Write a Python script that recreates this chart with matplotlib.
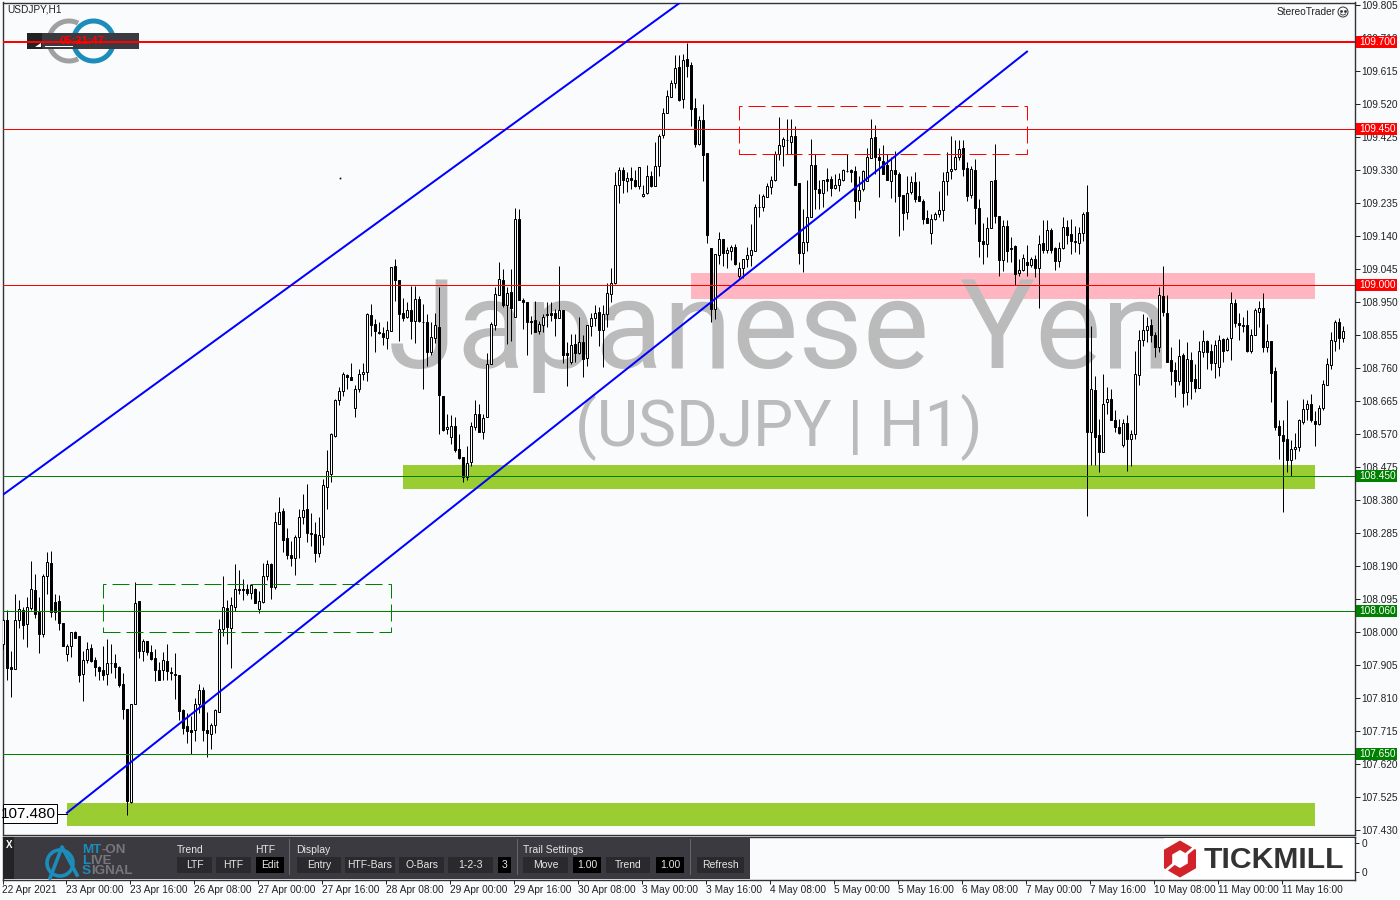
import numpy as np
import matplotlib
matplotlib.use("Agg")
import matplotlib.pyplot as plt
from matplotlib.patches import Rectangle, Circle, RegularPolygon, Polygon

plt.rcParams['font.family'] = ['Liberation Sans', 'DejaVu Sans']

# USDJPY H1 candles
opens = [
    107.967,108.036,107.899,107.895,108.036,108.065,108.024,108.070,108.122,108.058,
    107.995,108.163,108.200,108.087,108.091,108.026,107.938,107.959,108.000,107.988,
    107.880,107.921,107.955,107.921,107.901,107.890,107.880,107.912,107.912,107.901,
    107.851,107.779,107.510,107.794,108.089,107.945,107.976,107.943,107.926,107.892,
    107.890,107.916,107.886,107.880,107.877,107.775,107.729,107.717,107.717,107.794,
    107.834,107.717,107.707,107.734,107.770,108.010,108.070,108.013,108.074,108.125,
    108.125,108.125,108.112,108.125,108.067,108.087,108.163,108.197,108.129,108.313,
    108.348,108.270,108.221,108.215,108.273,108.331,108.354,108.287,108.284,108.227,
    108.273,108.417,108.457,108.566,108.669,108.694,108.742,108.736,108.646,108.701,
    108.744,108.749,108.914,108.888,108.866,108.862,108.847,108.867,109.056,109.015,
    108.919,108.907,108.928,108.895,108.960,108.893,108.893,108.806,108.847,108.878,
    108.680,108.584,108.562,108.595,108.528,108.506,108.448,108.489,108.592,108.629,
    108.576,108.619,108.773,108.886,108.972,109.015,108.941,108.979,108.909,109.190,
    108.958,108.950,108.897,108.899,108.867,108.886,108.913,108.919,108.918,108.905,
    108.928,108.803,108.777,108.830,108.803,108.836,108.789,108.883,108.905,108.921,
    108.869,108.917,108.975,109.005,109.287,109.332,109.299,109.309,109.301,109.285,
    109.255,109.265,109.315,109.285,109.342,109.431,109.495,109.541,109.581,109.629,
    109.536,109.651,109.634,109.510,109.407,109.474,109.380,109.107,108.931,109.085,
    109.133,109.092,109.099,109.109,109.025,109.049,109.076,109.085,109.099,109.224,
    109.224,109.253,109.282,109.301,109.376,109.400,109.417,109.411,109.428,109.294,
    109.092,109.123,109.195,109.346,109.277,109.265,109.304,109.304,109.279,109.287,
    109.301,109.328,109.330,109.327,109.241,109.277,109.299,109.366,109.426,109.368,
    109.357,109.346,109.299,109.332,109.320,109.258,109.210,109.267,109.298,109.255,
    109.243,109.193,109.150,109.191,109.203,109.215,109.299,109.328,109.334,109.368,
    109.395,109.336,109.260,109.332,109.222,109.126,109.119,109.165,109.301,109.200,
    109.073,109.171,109.107,109.111,109.034,109.042,109.065,109.058,109.075,109.049,
    109.121,109.102,109.157,109.106,109.069,109.106,109.167,109.147,109.125,109.122,
    109.150,109.210,108.576,108.698,108.569,108.519,108.663,108.672,108.612,108.591,
    108.538,108.603,108.557,108.571,108.741,108.842,108.869,108.886,108.857,108.821,
    108.967,108.920,108.783,108.754,108.723,108.797,108.691,108.785,108.728,108.703,
    108.807,108.840,108.809,108.776,108.765,108.844,108.813,108.848,108.949,108.891,
    108.886,108.885,108.809,108.857,108.922,108.934,108.821,108.838,108.751,108.595,
    108.569,108.557,108.495,108.528,108.533,108.605,108.642,108.658,108.607,108.600,
    108.645,108.713,108.771,108.840,108.894,108.848,
]
highs = [
    108.039,108.063,107.947,108.109,108.093,108.072,108.101,108.204,108.168,108.101,
    108.168,108.231,108.233,108.111,108.106,108.027,107.967,108.000,108.003,107.988,
    107.947,107.971,107.967,107.930,107.904,107.959,107.981,107.965,107.936,107.904,
    107.882,107.779,107.794,108.144,108.089,107.981,107.976,107.962,107.952,107.914,
    107.943,107.965,107.901,107.940,107.877,107.779,107.767,107.760,107.810,107.851,
    107.842,107.770,107.738,107.779,108.039,108.163,108.093,108.101,108.197,108.178,
    108.154,108.139,108.139,108.128,108.120,108.199,108.208,108.199,108.345,108.388,
    108.359,108.299,108.264,108.279,108.354,108.397,108.426,108.342,108.316,108.331,
    108.440,108.526,108.575,108.672,108.705,108.749,108.744,108.775,108.713,108.758,
    108.775,108.919,108.945,108.902,108.893,108.878,108.895,109.053,109.075,109.015,
    108.963,108.950,108.998,108.998,108.969,108.945,108.917,108.893,108.919,108.995,
    108.680,108.629,108.627,108.619,108.571,108.506,108.537,108.605,108.669,108.657,
    108.629,108.803,108.893,108.995,109.067,109.046,108.995,109.046,109.222,109.219,
    108.963,108.950,108.912,108.955,108.897,108.917,108.950,108.950,108.931,109.056,
    108.928,108.835,108.859,108.859,108.909,108.857,108.886,108.919,108.941,108.936,
    108.941,109.005,109.049,109.325,109.341,109.341,109.325,109.339,109.330,109.341,
    109.289,109.346,109.328,109.411,109.435,109.510,109.562,109.589,109.661,109.661,
    109.664,109.697,109.642,109.539,109.488,109.520,109.380,109.107,109.088,109.154,
    109.133,109.109,109.114,109.117,109.066,109.075,109.109,109.176,109.232,109.263,
    109.261,109.293,109.315,109.385,109.485,109.426,109.479,109.479,109.459,109.294,
    109.219,109.303,109.421,109.376,109.301,109.301,109.337,109.315,109.320,109.322,
    109.335,109.378,109.335,109.344,109.313,109.330,109.395,109.479,109.462,109.395,
    109.402,109.378,109.368,109.387,109.325,109.258,109.315,109.315,109.325,109.299,
    109.248,109.215,109.205,109.210,109.272,109.325,109.383,109.428,109.418,109.418,
    109.418,109.354,109.344,109.363,109.248,109.179,109.195,109.299,109.405,109.200,
    109.186,109.188,109.138,109.114,109.075,109.088,109.114,109.082,109.085,109.145,
    109.186,109.186,109.164,109.109,109.123,109.197,109.188,109.191,109.169,109.167,
    109.210,109.287,108.883,108.739,108.615,108.744,108.706,108.701,108.639,108.615,
    108.615,108.627,108.583,108.811,108.871,108.917,108.909,108.903,108.864,108.994,
    109.056,108.970,108.821,108.778,108.845,108.804,108.835,108.807,108.773,108.840,
    108.869,108.842,108.831,108.842,108.855,108.847,108.850,108.981,108.960,108.919,
    108.907,108.929,108.874,108.933,108.955,108.977,108.888,108.840,108.765,108.612,
    108.610,108.669,108.554,108.573,108.615,108.672,108.669,108.687,108.637,108.653,
    108.727,108.790,108.864,108.898,108.905,108.881,
]
lows = [
    107.952,107.861,107.813,107.895,108.013,107.981,107.957,108.065,108.041,107.940,
    107.986,108.111,108.045,108.034,108.005,107.960,107.917,107.930,107.984,107.856,
    107.801,107.911,107.914,107.875,107.861,107.863,107.849,107.882,107.869,107.842,
    107.751,107.475,107.508,107.794,107.926,107.917,107.933,107.921,107.859,107.861,
    107.861,107.863,107.861,107.808,107.746,107.707,107.681,107.648,107.688,107.767,
    107.688,107.640,107.664,107.709,107.770,107.988,107.967,107.897,108.061,108.111,
    108.093,108.106,108.096,108.084,108.055,108.084,108.149,108.096,108.125,108.313,
    108.230,108.212,108.190,108.164,108.215,108.313,108.261,108.247,108.201,108.218,
    108.250,108.354,108.434,108.561,108.653,108.679,108.701,108.725,108.619,108.691,
    108.725,108.723,108.854,108.806,108.859,108.828,108.816,108.867,108.955,108.838,
    108.895,108.905,108.845,108.832,108.893,108.700,108.766,108.799,108.832,108.571,
    108.579,108.571,108.542,108.518,108.499,108.432,108.437,108.480,108.581,108.576,
    108.557,108.619,108.773,108.869,108.972,108.938,108.830,108.840,108.909,108.957,
    108.873,108.797,108.859,108.864,108.859,108.864,108.878,108.895,108.854,108.905,
    108.775,108.708,108.773,108.777,108.801,108.734,108.768,108.854,108.883,108.823,
    108.763,108.880,108.951,109.003,109.236,109.265,109.267,109.277,109.282,109.277,
    109.253,109.263,109.282,109.284,109.315,109.424,109.495,109.541,109.568,109.529,
    109.510,109.599,109.459,109.397,109.402,109.299,109.121,108.893,108.903,109.059,
    109.056,109.049,109.071,109.058,109.018,109.021,109.051,109.056,109.099,109.197,
    109.213,109.253,109.261,109.299,109.359,109.344,109.376,109.376,109.289,109.061,
    109.037,109.099,109.195,109.219,109.219,109.224,109.272,109.256,109.277,109.272,
    109.299,109.325,109.296,109.193,109.215,109.270,109.299,109.366,109.320,109.253,
    109.320,109.301,109.251,109.239,109.141,109.157,109.191,109.263,109.239,109.241,
    109.176,109.178,109.119,109.188,109.195,109.184,109.258,109.306,109.330,109.359,
    109.315,109.241,109.250,109.176,109.082,109.061,109.080,109.165,109.178,109.027,
    109.040,109.066,109.066,108.999,109.027,109.040,109.025,109.051,109.023,108.933,
    109.092,109.092,109.092,109.042,109.053,109.104,109.117,109.090,109.095,109.090,
    109.128,108.334,108.483,108.483,108.461,108.519,108.629,108.610,108.576,108.571,
    108.533,108.464,108.480,108.557,108.711,108.823,108.835,108.835,108.792,108.807,
    108.912,108.778,108.711,108.677,108.711,108.648,108.653,108.672,108.691,108.703,
    108.792,108.759,108.754,108.732,108.739,108.778,108.811,108.785,108.879,108.843,
    108.864,108.807,108.804,108.855,108.879,108.807,108.807,108.663,108.581,108.499,
    108.346,108.461,108.451,108.499,108.521,108.600,108.610,108.605,108.535,108.598,
    108.641,108.711,108.758,108.811,108.815,108.835,
]
closes = [
    108.036,107.897,107.893,108.036,108.067,108.022,108.072,108.125,108.053,107.995,
    108.163,108.202,108.058,108.058,108.026,107.960,107.959,108.000,107.984,107.877,
    107.921,107.952,107.917,107.901,107.888,107.877,107.912,107.911,107.899,107.847,
    107.779,107.513,107.794,108.084,107.945,107.976,107.943,107.923,107.890,107.863,
    107.921,107.888,107.882,107.878,107.773,107.725,107.715,107.714,107.794,107.834,
    107.717,107.710,107.732,107.775,108.010,108.072,108.015,108.077,108.125,108.123,
    108.122,108.112,108.137,108.084,108.091,108.163,108.197,108.130,108.316,108.345,
    108.267,108.221,108.215,108.273,108.331,108.351,108.287,108.282,108.227,108.279,
    108.423,108.463,108.570,108.669,108.696,108.744,108.734,108.727,108.701,108.744,
    108.749,108.915,108.886,108.867,108.861,108.849,108.870,109.053,109.013,108.917,
    108.905,108.928,108.897,108.960,108.895,108.892,108.806,108.849,108.886,108.682,
    108.583,108.590,108.594,108.525,108.502,108.448,108.487,108.594,108.629,108.576,
    108.617,108.773,108.888,108.974,109.017,108.941,108.976,108.934,109.190,108.957,
    108.950,108.893,108.893,108.866,108.888,108.909,108.917,108.913,108.905,108.928,
    108.799,108.799,108.828,108.803,108.836,108.787,108.886,108.905,108.919,108.869,
    108.917,108.976,109.006,109.287,109.330,109.303,109.308,109.301,109.285,109.341,
    109.263,109.315,109.285,109.344,109.430,109.496,109.543,109.583,109.625,109.534,
    109.649,109.630,109.507,109.407,109.474,109.375,109.144,108.931,109.088,109.133,
    109.092,109.101,109.109,109.061,109.049,109.074,109.087,109.101,109.226,109.226,
    109.255,109.284,109.303,109.376,109.403,109.419,109.418,109.428,109.289,109.092,
    109.124,109.197,109.346,109.277,109.265,109.301,109.299,109.279,109.289,109.306,
    109.330,109.329,109.324,109.241,109.274,109.327,109.368,109.424,109.368,109.361,
    109.320,109.301,109.332,109.320,109.256,109.207,109.265,109.296,109.248,109.243,
    109.190,109.178,109.191,109.205,109.217,109.299,109.326,109.335,109.368,109.392,
    109.335,109.256,109.335,109.222,109.126,109.117,109.165,109.299,109.200,109.073,
    109.171,109.099,109.103,109.032,109.042,109.078,109.057,109.075,109.049,109.119,
    109.101,109.159,109.102,109.069,109.107,109.167,109.143,109.126,109.126,109.151,
    109.205,108.576,108.701,108.562,108.519,108.658,108.672,108.612,108.591,108.573,
    108.603,108.557,108.571,108.744,108.842,108.869,108.883,108.857,108.821,108.970,
    108.922,108.778,108.752,108.723,108.795,108.689,108.787,108.723,108.703,108.809,
    108.838,108.807,108.776,108.826,108.843,108.809,108.845,108.949,108.890,108.885,
    108.883,108.809,108.857,108.927,108.934,108.821,108.838,108.746,108.591,108.569,
    108.552,108.495,108.528,108.533,108.610,108.643,108.658,108.610,108.600,108.646,
    108.715,108.773,108.842,108.894,108.848,108.867,
]

# price levels and their right-axis tags
red_levels = [109.700, 109.450, 109.000]
green_levels = [108.450, 108.060, 107.650]

# zones: first bar, last bar, low, high
pink_zone = [172, 328, 108.959, 109.034]
green_zone_upper = [100, 328, 108.412, 108.483]
green_zone_lower = [16, 328, 107.442, 107.507]

# dashed boxes: first bar, last bar, low, high
green_box = [25, 97, 108.002, 108.138]
red_box = [184, 256, 109.378, 109.514]

# trend lines: bars and prices at both ends
lower_trend_bars = [16, 256]
lower_trend_prices = [107.480, 109.672]
upper_trend_bars = [-0.25, 169.25]
upper_trend_prices = [108.394, 109.813]

price_ticks = [109.805 - 0.095 * k for k in range(26)]
time_labels = [
    "22 Apr 2021", "23 Apr 00:00", "23 Apr 16:00", "26 Apr 08:00", "27 Apr 00:00",
    "27 Apr 16:00", "28 Apr 08:00", "29 Apr 00:00", "29 Apr 16:00", "30 Apr 08:00",
    "3 May 00:00", "3 May 16:00", "4 May 08:00", "5 May 00:00", "5 May 16:00",
    "6 May 08:00", "7 May 00:00", "7 May 16:00", "10 May 08:00", "11 May 00:00",
    "11 May 16:00",
]

BG = '#f9fbfd'
FRAME = '#333333'
PANEL = '#3b3a40'
BUTTON = '#2a2a2e'
BLUE_LOGO = '#1c8cba'
PX = 0.72  # one pixel in points

fig = plt.figure(figsize=(14, 9), dpi=100, facecolor=BG)


def fig_box(x0, y0, x1, y1):
    return [x0 / 1400, 1 - y1 / 900, (x1 - x0) / 1400, (y1 - y0) / 900]


ax = fig.add_axes(fig_box(2.5, 2.5, 1354.5, 834.5), facecolor=BG, zorder=1)
panel = fig.add_axes(fig_box(2.5, 836.5, 1354.5, 879.5), facecolor=BG, zorder=2)
# overlay in pixel units for the decorations that are not data
ov = fig.add_axes([0, 0, 1, 1], facecolor='none', zorder=3)
ov.set_xlim(0, 1400)
ov.set_ylim(900, 0)
ov.axis('off')

ax.set_xlim(-0.125, 337.875)
ax.set_ylim(107.4175, 109.8135)
panel.set_xlim(-0.125, 337.875)
panel.set_ylim(0, 1)

for a in (ax, panel):
    for s in a.spines.values():
        s.set_color(FRAME)
        s.set_linewidth(1.0)


def px_rect(target, x0, y0, x1, y1, color, z=5):
    target.add_patch(Rectangle((x0, y0), x1 - x0, y1 - y0, facecolor=color, edgecolor='none',
                               transform=ov.transData, zorder=z, clip_on=False))


def arc(target, cx, cy, r, t1, t2, color, lw, z=1.8):
    t = np.radians(np.linspace(t1, t2, 60))
    target.plot(cx + r * np.cos(t), cy + r * np.sin(t), color=color, lw=lw, solid_capstyle='butt',
                transform=ov.transData, zorder=z, clip_on=False)


# zones under everything
for zone, color in [(pink_zone, '#ffb6c1'), (green_zone_upper, '#9acd32'), (green_zone_lower, '#9acd32')]:
    ax.add_patch(Rectangle((zone[0], zone[2]), zone[1] - zone[0], zone[3] - zone[2],
                           facecolor=color, edgecolor='none', zorder=1, antialiased=False))

# watermark
ax.text(388, 368, "Japanese Yen", transform=ov.transData, fontsize=90, color='#bbbbbb',
        family=['Roboto', 'DejaVu Sans'], va='baseline', ha='left', zorder=1.5)
ax.text(575, 446, "(USDJPY | H1)", transform=ov.transData, fontsize=46, color='#bbbbbb',
        family=['Roboto', 'DejaVu Sans'], va='baseline', ha='left', zorder=1.5)

# clock box and logo at top left
arc(ax, 69, 41, 20, 180, 297, '#a0a0a0', 3.6)
arc(ax, 69, 41, 20, 63, 180, '#a0a0a0', 3.6)
arc(ax, 93.5, 41, 20, 0, 360, BLUE_LOGO, 3.6)
px_rect(ax, 27, 33, 139, 49, PANEL, 2)
px_rect(ax, 27, 33, 42, 49, '#222222', 2.1)
px_rect(ax, 45, 46, 73, 47, '#ffffff', 2.1)
ax.add_patch(Polygon([(35, 47), (41, 47), (41, 43)], closed=True, facecolor='#ffffff', edgecolor='none',
                     transform=ov.transData, zorder=2.1))
ax.text(82, 40.5, "05:21:47", transform=ov.transData, color='#ff0000', fontsize=8, fontweight='bold',
        ha='center', va='center', zorder=2.2)

# candles
bars = np.arange(len(opens))
opens_a = np.array(opens)
closes_a = np.array(closes)
wicks = ax.vlines(bars, lows, highs, color='black', linewidth=PX, zorder=3)
wicks.set_snap(True)
body_low = np.minimum(opens_a, closes_a)
body_h = np.abs(closes_a - opens_a)
colors = ['white' if c >= o else 'black' for o, c in zip(opens, closes)]
ax.bar(bars, body_h, bottom=body_low, width=0.5, color=colors, edgecolor='black', linewidth=PX, zorder=3.5)

# horizontal levels
ax.axhline(red_levels[0], color='#ff0000', lw=2 * PX, zorder=4)
for lv in red_levels[1:]:
    ax.axhline(lv, color='#ff0000', lw=PX, zorder=4)
for lv in green_levels:
    ax.axhline(lv, color='#008000', lw=PX, zorder=4)

# dashed boxes
for box, color in [(green_box, '#008000'), (red_box, '#ff0000')]:
    ax.add_patch(Rectangle((box[0], box[2]), box[1] - box[0], box[3] - box[2], facecolor='none',
                           edgecolor=color, linewidth=PX, linestyle=(0, (17, 6)), zorder=4))

# trend lines
ax.plot(lower_trend_bars, lower_trend_prices, color='#0000ff', lw=2 * PX, zorder=4.5)
ax.plot(upper_trend_bars, upper_trend_prices, color='#0000ff', lw=2 * PX, zorder=4.5)

# stray dot
ax.plot([84.25], [109.309], marker='s', ms=1.2, color='black', mew=0, zorder=3)

# price label at the start of the lower trend line
px_rect(ax, 2.5, 804, 57, 823, 'white', 6)
ax.add_patch(Rectangle((2.5, 804), 54.5, 19, facecolor='none', edgecolor='black', lw=PX,
                       transform=ov.transData, zorder=6.1))
ax.plot([57, 67], [813.5, 813.5], color='black', lw=PX, transform=ov.transData, zorder=6)
ax.text(56, 814, "107.480", transform=ov.transData, fontsize=11, color='black', ha='right', va='center',
        zorder=6.2)

# axis text
ax.set_xticks([])
ax.yaxis.tick_right()
ax.set_yticks(price_ticks)
ax.set_yticklabels(['%.3f' % p for p in price_ticks])
ax.tick_params(axis='y', length=3.5, width=PX, pad=1.5, labelsize=7.3, colors='#222222')

y_tf = ax.get_yaxis_transform()
for lv, color in [(v, '#ff0000') for v in red_levels] + [(v, '#008000') for v in green_levels]:
    ax.add_patch(Rectangle((1.001, lv - 0.0173), 0.0305, 0.0346, facecolor=color, edgecolor='none',
                           transform=y_tf, clip_on=False, zorder=7))
    ax.text(1.0035, lv, '%.3f' % lv, transform=y_tf, color='white', fontsize=7.3, va='center', ha='left',
            clip_on=False, zorder=7.1)

ov.text(7, 10, "USDJPY,H1", fontsize=7.3, color='#222222', va='center', ha='left')
ov.text(1336, 12, "StereoTrader", fontsize=7.3, color='#222222', va='center', ha='right')
ov.add_patch(Circle((1343, 12), 5, facecolor='none', edgecolor='#333333', lw=0.7))
ov.plot([1341, 1345], [10.5, 10.5], ls='none', marker='s', ms=0.9, color='#333333')
t = np.radians(np.linspace(30, 150, 20))
ov.plot(1343 + 3 * np.cos(t), 12.5 + 2.5 * np.sin(t), color='#333333', lw=0.6)

# bottom panel axis
panel.set_xticks([16 * k - 0.25 for k in range(len(time_labels))])
panel.set_xticklabels(time_labels, ha='left')
panel.tick_params(axis='x', length=3, width=PX, pad=0.8, labelsize=7.3, colors='#222222')
panel.yaxis.tick_right()
panel.set_yticks([0.17, 0.85])
panel.set_yticklabels(['0', '0'])
panel.tick_params(axis='y', length=3, width=PX, pad=2, labelsize=7.3, colors='#222222')

# dark control panel
px_rect(ov, 3, 837, 750, 879, PANEL, 1)
px_rect(ov, 3, 837, 14, 879, '#232326', 1.1)
ov.text(9, 845, "X", color='white', fontsize=7, fontweight='bold', ha='center', va='center')
for x in [289, 517, 690]:
    px_rect(ov, x, 839, x + 1, 875, '#66656c', 1.1)

# panel logo
arc(ov, 60, 863, 13, 0, 360, BLUE_LOGO, 2.6, z=2)
ov.plot([50, 62, 77], [878, 847, 875], color=BLUE_LOGO, lw=2.6, zorder=2)
for y, blue_part, grey_part, w in [(850, "MT", "-ON", 19), (860.5, "L", "IVE", 8), (871, "S", "IGNAL", 9.5)]:
    ov.text(82, y, blue_part, color=BLUE_LOGO, fontsize=9.6, fontweight='bold', va='center', ha='left')
    ov.text(82 + w, y, grey_part, color='#77767c', fontsize=9.6, fontweight='bold', va='center', ha='left')

for label, x in [("Trend", 177), ("HTF", 255), ("Display", 296), ("Trail Settings", 523)]:
    ov.text(x, 850, label, color='#e6e6e6', fontsize=7.5, va='center', ha='left')

buttons = [("LTF", 177, 212, BUTTON), ("HTF", 216, 251, BUTTON), ("Edit", 256, 284, 'black'),
           ("Entry", 297, 341, BUTTON), ("HTF-Bars", 345, 395, BUTTON), ("O-Bars", 399, 444, BUTTON),
           ("1-2-3", 448, 493, BUTTON), ("3", 498, 511, 'black'), ("Move", 523, 568, BUTTON),
           ("1.00", 573, 601, 'black'), ("Trend", 606, 650, BUTTON), ("1.00", 656, 684, 'black'),
           ("Refresh", 697, 744, BUTTON)]
for label, x0, x1, color in buttons:
    px_rect(ov, x0, 857, x1, 873, color, 1.2)
    ov.text((x0 + x1) / 2, 865, label, color='#e6e6e6', fontsize=7.5, va='center', ha='center')

# Tickmill logo
px_rect(ov, 1164, 838, 1354, 879, 'white', 1)
hex_red = '#d2232a'
ov.add_patch(RegularPolygon((1180, 859), 6, radius=18.5, facecolor=hex_red, edgecolor='none', zorder=2,
                            transform=ov.transData))
ov.add_patch(RegularPolygon((1180, 859), 6, radius=9, facecolor='white', edgecolor='none', zorder=2.1,
                            transform=ov.transData))
ov.plot([1164, 1176], [872, 862], color='white', lw=2, zorder=2.2)
ov.plot([1196, 1184], [846, 856], color='white', lw=2, zorder=2.2)
ov.text(1204, 859.5, "TICKMILL", fontsize=21.7, fontweight='bold', color='#333333', va='center', ha='left',
        zorder=2.3)

fig.savefig("out.png", dpi=100, facecolor=BG)
